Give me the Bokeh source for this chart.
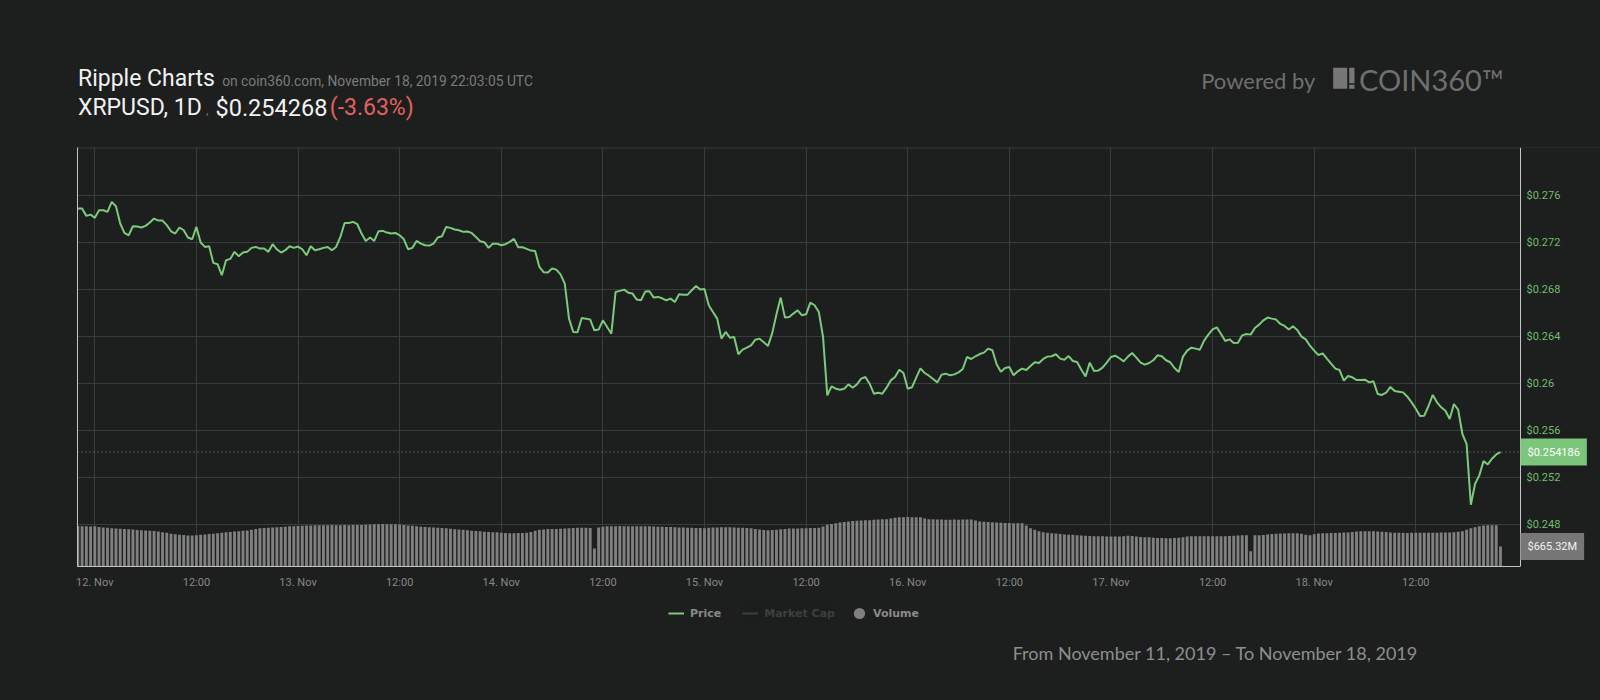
import pandas as pd
from bokeh.plotting import figure
from bokeh.layouts import column
from bokeh.models import (ColumnDataSource, Range1d, LinearAxis, DatetimeAxis, FixedTicker,
                          CustomJSTickFormatter, Grid, Legend, LegendItem, Label, Span,
                          BoxAnnotation)
from bokeh.embed import file_html
from bokeh.resources import INLINE
from bokeh.core.properties import value

# ---------------- data ----------------
start_time = "2019-11-11 22:00"
step = "30min"

price_usd = [
    0.27489, 0.27489, 0.27427, 0.27438, 0.27410, 0.27475, 0.27475, 0.27461, 0.27546, 0.27509,
    0.27362, 0.27282, 0.27262, 0.27339, 0.27336, 0.27328, 0.27342, 0.27370, 0.27404, 0.27387,
    0.27387, 0.27348, 0.27296, 0.27277, 0.27328, 0.27305, 0.27243, 0.27228, 0.27333, 0.27200,
    0.27163, 0.27169, 0.27027, 0.27016, 0.26922, 0.27050, 0.27061, 0.27121, 0.27084, 0.27115,
    0.27121, 0.27155, 0.27163, 0.27149, 0.27149, 0.27121, 0.27186, 0.27143, 0.27115, 0.27135,
    0.27169, 0.27155, 0.27166, 0.27143, 0.27092, 0.27169, 0.27135, 0.27143, 0.27155, 0.27163,
    0.27135, 0.27163, 0.27248, 0.27367, 0.27367, 0.27376, 0.27356, 0.27277, 0.27214, 0.27243,
    0.27214, 0.27296, 0.27299, 0.27285, 0.27277, 0.27282, 0.27262, 0.27228, 0.27143, 0.27155,
    0.27214, 0.27191, 0.27177, 0.27174,
    0.27191, 0.27243, 0.27254, 0.27333, 0.27325, 0.27311, 0.27305, 0.27291, 0.27294, 0.27282,
    0.27248, 0.27211, 0.27203, 0.27155, 0.27191, 0.27191, 0.27177, 0.27186, 0.27206, 0.27231,
    0.27160, 0.27160, 0.27146, 0.27132, 0.27129, 0.26993, 0.26948, 0.26945, 0.26979, 0.26970,
    0.26930, 0.26851, 0.26553, 0.26440, 0.26437, 0.26559, 0.26553, 0.26545, 0.26454, 0.26460,
    0.26539, 0.26482, 0.26425, 0.26780, 0.26789, 0.26800, 0.26774, 0.26766, 0.26715, 0.26709,
    0.26783, 0.26786, 0.26732, 0.26738, 0.26726, 0.26709, 0.26723, 0.26695, 0.26760, 0.26757,
    0.26757, 0.26794, 0.26831, 0.26800, 0.26806, 0.26667, 0.26610, 0.26553, 0.26383, 0.26440,
    0.26391, 0.26397, 0.26250, 0.26289, 0.26306, 0.26326, 0.26374, 0.26383, 0.26352, 0.26321,
    0.26430, 0.26590, 0.26732,
    0.26562, 0.26567, 0.26596, 0.26624, 0.26582, 0.26590, 0.26689, 0.26667, 0.26610, 0.26397,
    0.25901, 0.25977, 0.25957, 0.25949, 0.25957, 0.25994, 0.25966, 0.25994, 0.26043, 0.26057,
    0.26000, 0.25915, 0.25923, 0.25915, 0.25966, 0.26028, 0.26057, 0.26119, 0.26091, 0.25957,
    0.25969, 0.26051, 0.26130, 0.26091, 0.26068, 0.26040, 0.26011, 0.26077, 0.26085, 0.26071,
    0.26079, 0.26096, 0.26125, 0.26227, 0.26210, 0.26233, 0.26252, 0.26264, 0.26298, 0.26284,
    0.26165, 0.26102, 0.26133, 0.26142, 0.26071, 0.26105, 0.26128, 0.26116, 0.26150, 0.26182,
    0.26176, 0.26210, 0.26230, 0.26233, 0.26250, 0.26213, 0.26204, 0.26235, 0.26193, 0.26184,
    0.26119, 0.26062, 0.26179, 0.26108, 0.26111, 0.26136, 0.26179, 0.26227, 0.26238, 0.26216,
    0.26190, 0.26230, 0.26261, 0.26221, 0.26179, 0.26162, 0.26176, 0.26199, 0.26241, 0.26233,
    0.26199, 0.26182, 0.26133, 0.26099, 0.26230, 0.26281, 0.26306, 0.26298, 0.26289, 0.26366,
    0.26417, 0.26462, 0.26479, 0.26423, 0.26363, 0.26377, 0.26346, 0.26349, 0.26411, 0.26423,
    0.26417, 0.26474, 0.26502, 0.26539, 0.26562, 0.26553, 0.26545, 0.26508, 0.26491, 0.26460,
    0.26488, 0.26457, 0.26400, 0.26377, 0.26323, 0.26281, 0.26244, 0.26258, 0.26213, 0.26170,
    0.26128, 0.26116, 0.26026, 0.26065, 0.26054, 0.26031, 0.26031, 0.26034, 0.26011, 0.26020,
    0.25912, 0.25904, 0.25923, 0.25972, 0.25938, 0.25932, 0.25926, 0.25889, 0.25841, 0.25787,
    0.25725, 0.25728, 0.25810, 0.25904, 0.25841, 0.25799, 0.25770, 0.25699, 0.25827, 0.25779,
    0.25572, 0.25486,
    0.24970, 0.25149, 0.25220, 0.25341, 0.25313, 0.25362, 0.25398, 0.254186,
]

volume_musd = [
    1345, 1338, 1341, 1330, 1335, 1318, 1300, 1290, 1274,
    1268, 1255, 1245, 1240, 1228, 1215, 1208, 1198,
    1190, 1180, 1165, 1140, 1120, 1088, 1075, 1060, 1045, 1031,
    1030, 1040, 1055, 1068, 1080, 1090, 1105, 1120, 1138,
    1150, 1165, 1175, 1188, 1198, 1220, 1245, 1270,
    1280, 1292, 1300, 1307, 1315, 1325, 1335, 1341,
    1350, 1355, 1362, 1368, 1374,
    1370, 1372, 1375, 1378, 1372, 1376, 1380, 1374, 1378, 1382, 1380,
    1390, 1398, 1404, 1407, 1410, 1408, 1407, 1404,
    1395, 1380, 1365, 1354, 1340, 1325, 1312, 1305,
    1295, 1285, 1278, 1270, 1255, 1240, 1228, 1221,
    1205, 1190, 1180, 1172, 1160, 1150, 1142, 1138,
    1125, 1115, 1108, 1110, 1112, 1118, 1121, 1150,
    1190, 1221, 1235, 1245, 1248, 1250, 1255, 1260,
    1270, 1280, 1287, 1290, 1285, 1282, 600,
    1300, 1320, 1335, 1341,
    1342, 1345, 1341, 1340, 1343, 1341, 1340, 1338,
    1335, 1330, 1325, 1320, 1315, 1310, 1309,
    1300, 1295, 1290, 1286, 1282, 1278, 1276,
    1285, 1295, 1300, 1305, 1309, 1309,
    1300, 1290, 1285, 1280, 1276,
    1250, 1230, 1215, 1209, 1212,
    1225, 1240, 1250, 1260, 1264,
    1268, 1272, 1276, 1280, 1284, 1287,
    1330, 1386, 1415, 1441, 1460, 1480, 1497, 1510,
    1520, 1530, 1536, 1541, 1552, 1560, 1570, 1575,
    1600, 1620, 1641, 1641, 1645, 1641, 1641, 1638,
    1600, 1575, 1570, 1565, 1560, 1555, 1553, 1560,
    1555, 1562, 1564, 1560, 1530, 1497, 1490, 1480,
    1470, 1460, 1453, 1450, 1445, 1441, 1441, 1438,
    1360, 1276, 1220, 1175, 1140, 1120, 1109, 1095,
    1080, 1065, 1054, 1054, 1040, 1030, 1020, 1012,
    1009, 1005, 1003, 1000, 998, 998, 1000, 1010,
    1020, 1018, 1000, 985, 976, 970, 960, 950,
    945, 943, 943, 948, 954, 970, 995, 1009,
    1009, 1010, 1008, 1009, 1010, 1009, 1009, 1010,
    1012, 1020, 1035, 1042, 1042, 510, 1042, 1042,
    1050, 1065, 1080, 1092, 1098, 1100, 1105, 1109,
    1109, 1090, 1060, 1042, 1075, 1095, 1105, 1109,
    1112, 1118, 1125, 1131, 1131, 1150, 1165, 1176,
    1176, 1172, 1170, 1165, 1160, 1150, 1135, 1125,
    1120, 1120, 1118, 1120, 1120, 1120, 1122, 1120,
    1122, 1125, 1128, 1130, 1131, 1140, 1160, 1176,
    1220, 1270, 1309, 1340, 1365, 1375, 1375, 1375,
    665.32,
]

price_ticks = [0.248, 0.252, 0.256, 0.26, 0.264, 0.268, 0.272, 0.276]
time_ticks = pd.date_range("2019-11-12 00:00", "2019-11-18 12:00", freq="12h")

title_main = "Ripple Charts"
title_source = "on coin360.com, November 18, 2019 22:03:05 UTC"
pair_label = "XRPUSD, 1D"
last_quote = "$0.254268"
change_label = "(-3.63%)"
powered_label = "Powered by"
brand_label = "COIN360\u2122"
period_label = "From November 11, 2019 \u2013 To November 18, 2019"
legend_labels = ["Price", "Market Cap", "Volume"]

# ---------------- style / geometry ----------------
BG = "#1d1e1e"
GRID = "#3a3b3b"
BORDER = "#c4c4c4"
GREEN = "#7cca7c"
W = 1600
FL = 77                    # frame left (page px); frame runs to the right edge
PX_PER_H = 8.468           # horizontal scale of the reference (px per hour)
T0_PX = 94.3               # page x of 12 Nov 00:00

times = pd.date_range(start_time, periods=len(price_usd), freq=step)
src = ColumnDataSource(dict(t=times, price=price_usd, vol=volume_musd))

epoch = pd.Timestamp("1970-01-01")
t0 = pd.Timestamp("2019-11-12 00:00")
def ms_at(px):
    return (t0 + pd.Timedelta(hours=(px - T0_PX) / PX_PER_H) - epoch) / pd.Timedelta(milliseconds=1)
def ms(ts):
    return (ts - epoch) / pd.Timedelta(milliseconds=1)

x_start = ms_at(FL)
x_edge = ms_at(1520)       # visible right border of the chart
x_far = ms_at(W)
x_lab = ms_at(1560)
step_ms = pd.Timedelta(step) / pd.Timedelta(milliseconds=1)

def plain_fig(h, y0):
    f = figure(width=W, height=h, x_range=Range1d(FL, W), y_range=Range1d(y0 + h, y0),
               toolbar_location=None, output_backend="svg", min_border=0,
               x_axis_location=None, y_axis_location=None,
               background_fill_color=BG, border_fill_color=BG, outline_line_color=None)
    f.grid.visible = False
    return f

def htext(fig, x, y, txt, size, color, font="Roboto", align="left", baseline="alphabetic", style="normal"):
    fig.text(x=[x], y=[y], text=[txt], text_font=value(font), text_font_size=size,
             text_color=color, text_align=align, text_baseline=baseline, text_font_style=style)

# ---------------- header (page y 0..139) ----------------
hdr = plain_fig(139, 0)
htext(hdr, 77.5, 78.4, title_main, "23px", "#f2f2f2")
htext(hdr, 221.7, 80.6, title_source, "13.8px", "#7b7b7b")
htext(hdr, 77.5, 107, pair_label, "23px", "#f2f2f2")
htext(hdr, 205.5, 109, ",", "13px", "#6a6a6a")
htext(hdr, 215, 107, last_quote, "23.5px", "#f2f2f2")
htext(hdr, 329.3, 107, change_label, "23px", "#e2625e")
htext(hdr, 1200.7, 80, powered_label, "22px", "#6f6f6f", font="Lato")
hdr.quad(left=[1332.7, 1348.7, 1348.7], right=[1346.7, 1354, 1354],
         top=[67.3, 67.3, 84.3], bottom=[88.3, 82.7, 88.3],
         fill_color="#777777", line_color=None)
htext(hdr, 1358.5, 79, brand_label, "29px", "#6f6f6f", font="Lato")

# ---------------- main chart (page y 139..600) ----------------
p = figure(width=W, height=461, toolbar_location=None, output_backend="svg",
           x_range=Range1d(x_start, x_far), y_range=Range1d(0.244451, 0.280085),
           x_axis_location=None, y_axis_location=None,
           min_border_left=FL, min_border_right=0, min_border_top=8, min_border_bottom=34,
           background_fill_color=BG, border_fill_color=BG, outline_line_color=None)
p.grid.visible = False
p.extra_y_ranges = {"vol": Range1d(0, 13939)}

xticker = FixedTicker(ticks=[ms(t) for t in time_ticks])
yticker = FixedTicker(ticks=price_ticks)

p.add_layout(Grid(dimension=0, ticker=xticker, grid_line_color=GRID))
p.add_layout(Grid(dimension=1, ticker=yticker, grid_line_color=GRID))
p.add_layout(Span(location=0.280085, dimension="width", line_color=GRID, line_width=2, level="underlay"))
p.add_layout(Span(location=price_usd[-1], dimension="width", line_color="#8a8a8a",
                  line_dash="1 3", line_width=1, level="underlay"))
# blank strip right of the chart border (where the axis labels live)
p.add_layout(BoxAnnotation(left=x_edge, fill_color=BG, fill_alpha=1.0, line_color=None, level="underlay"))

vol_r = p.vbar(x="t", top="vol", bottom=0, width=step_ms * 0.68, source=src,
               y_range_name="vol", fill_color="#808080", line_color=None)
price_r = p.line(x="t", y="price", source=src, line_color=GREEN, line_width=2)

p.add_layout(Span(location=x_edge, dimension="height", line_color=BORDER, line_width=1))

xfmt = CustomJSTickFormatter(code="""
const d = new Date(tick);
const h = d.getUTCHours();
const m = ["Jan","Feb","Mar","Apr","May","Jun","Jul","Aug","Sep","Oct","Nov","Dec"];
if (h === 0) { return d.getUTCDate() + ". " + m[d.getUTCMonth()]; }
return (h < 10 ? "0" : "") + h + ":00";
""")
xaxis = DatetimeAxis(ticker=xticker, formatter=xfmt, axis_line_color=BORDER,
                     bounds=(x_start, x_edge),
                     major_tick_line_color=None, minor_tick_line_color=None,
                     major_label_text_color="#878787", major_label_text_font="Roboto",
                     major_label_text_font_size="11px", major_label_standoff=3)
p.add_layout(xaxis, "below")

yfmt = CustomJSTickFormatter(code="return '$' + parseFloat(tick.toFixed(3));")
yaxis = LinearAxis(ticker=yticker, formatter=yfmt, fixed_location=x_lab,
                   axis_line_color=None, major_tick_line_color=None, minor_tick_line_color=None,
                   major_label_text_color="#6fbf6f", major_label_text_font="Roboto",
                   major_label_text_font_size="11px", major_label_standoff=-40)
p.add_layout(yaxis, "right")

laxis = LinearAxis(ticker=yticker, formatter=CustomJSTickFormatter(code="return '';"),
                   axis_line_color=BORDER, major_tick_line_color=None,
                   minor_tick_line_color=None, major_label_standoff=0)
p.add_layout(laxis, "left")

# last-value flags just right of the chart border
p.add_layout(Label(x=x_edge, y=price_usd[-1], text="$%s" % price_usd[-1], x_offset=0,
                   text_align="left", text_baseline="middle", text_color="#ffffff",
                   text_font="Roboto", text_font_size="11px", padding=7,
                   background_fill_color="#7cc67c"))
p.add_layout(Label(x=x_edge, y=volume_musd[-1], y_range_name="vol",
                   text="$%.2fM" % volume_musd[-1], x_offset=0,
                   text_align="left", text_baseline="middle", text_color="#f2f2f2",
                   text_font="Roboto", text_font_size="11px", padding=7,
                   background_fill_color="#777777"))

# ---------------- footer (page y 600..700) ----------------
NAN = float("nan")
ftr = plain_fig(100, 600)
k_price = ftr.line(x=[NAN], y=[NAN], line_color=GREEN, line_width=2)
k_mcap = ftr.line(x=[NAN], y=[NAN], line_color="#8a8a8a", line_width=2, visible=False)
k_vol = ftr.scatter(x=[NAN], y=[NAN], marker="circle", size=12, fill_color="#808080", line_color=None)
leg_style = dict(orientation="horizontal", margin=0, padding=2,
                 label_text_font="DejaVu Sans", label_text_font_size="11px",
                 label_text_font_style="bold", label_text_color="#8a8a8a",
                 background_fill_alpha=0, border_line_color=None,
                 inactive_fill_color=BG, inactive_fill_alpha=0.7, click_policy="hide")
legend_a = Legend(items=[LegendItem(label=legend_labels[0], renderers=[k_price]),
                         LegendItem(label=legend_labels[1], renderers=[k_mcap])],
                  location=(668 - FL, 700 - 623), glyph_width=16, glyph_height=20,
                  label_standoff=6, spacing=21, **leg_style)
legend_b = Legend(items=[LegendItem(label=legend_labels[2], renderers=[k_vol])],
                  location=(845 - FL, 700 - 628), glyph_width=28, glyph_height=30,
                  label_standoff=0, spacing=0, **leg_style)
ftr.add_layout(legend_a, "center")
ftr.add_layout(legend_b, "center")
htext(ftr, 1418, 652, period_label, "18px", "#8e8e8e", font="Lato", align="right", baseline="middle")

layout = column(hdr, p, ftr, spacing=0, styles={"background-color": BG})

html = file_html(layout, INLINE, title="Ripple Charts")
css = ("<style>html, body {background-color: %s !important; margin: 0 !important; "
       "overflow: hidden;}</style></head>" % BG)
html = html.replace("</head>", css, 1)
open("out.html", "w").write(html)
